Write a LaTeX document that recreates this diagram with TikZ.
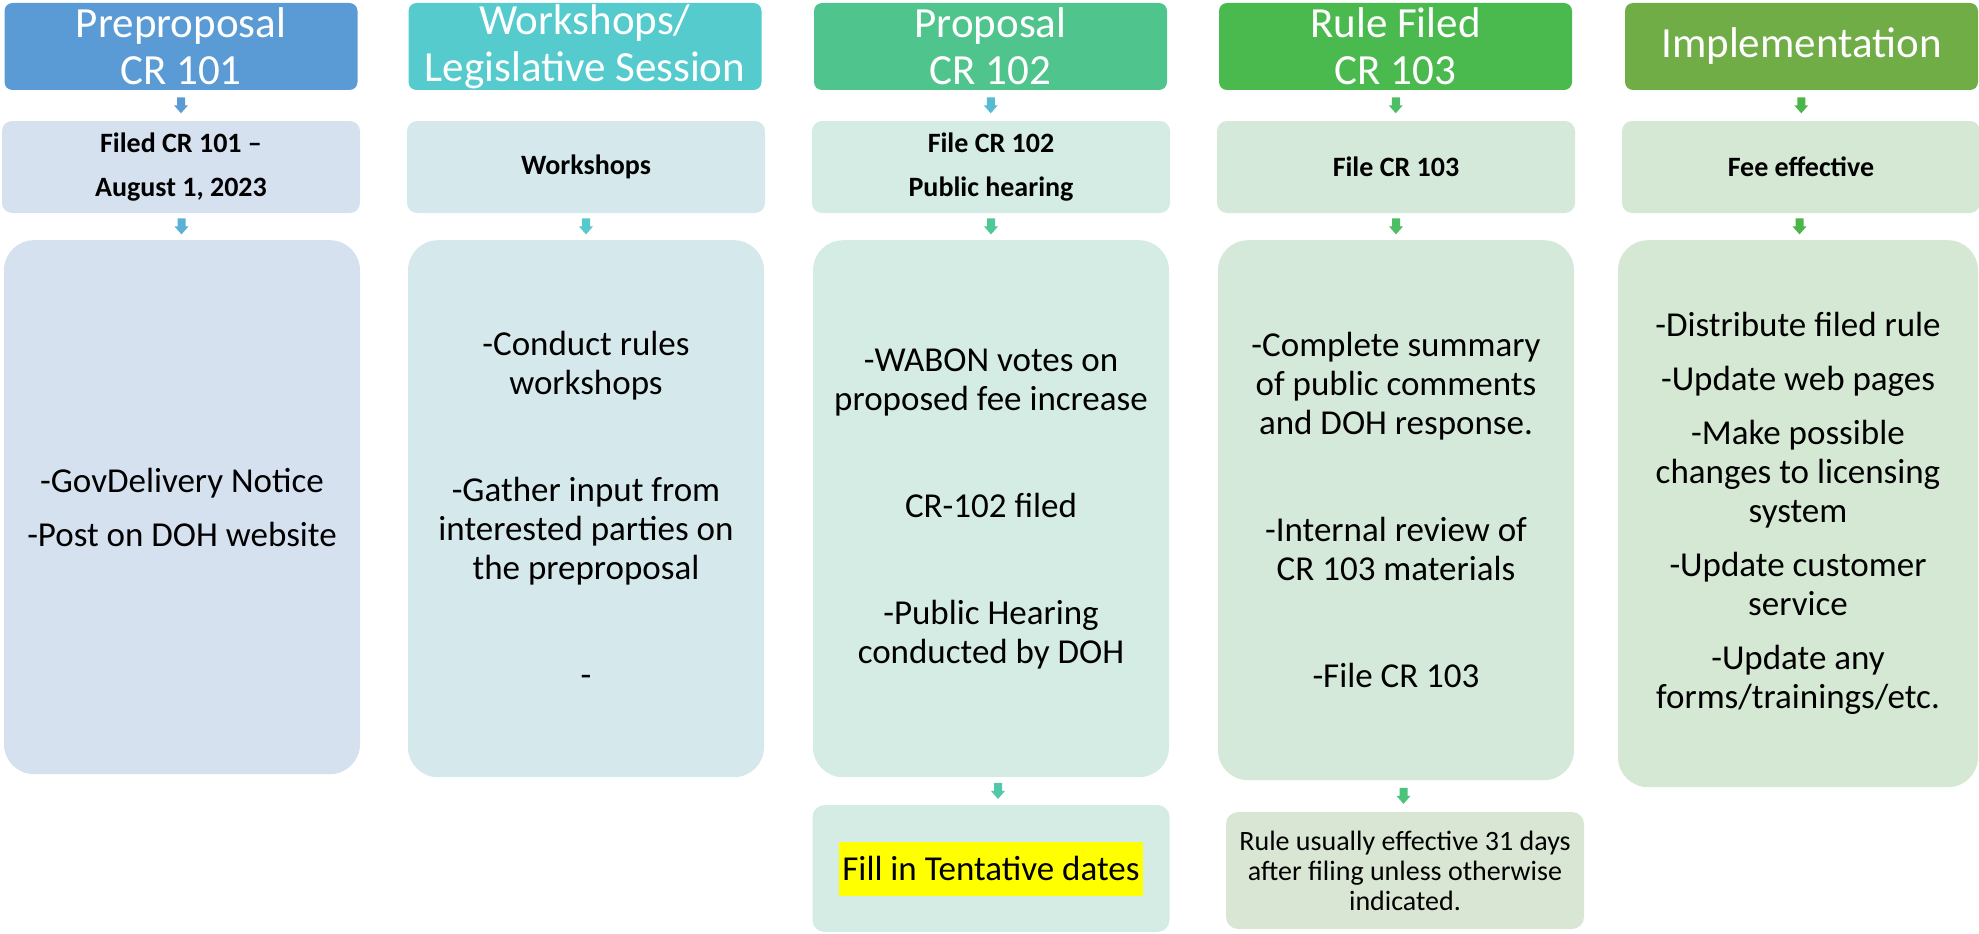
\documentclass[tikz,border=0pt]{standalone}
\usepackage{fontspec}
\setmainfont{Carlito}
\usetikzlibrary{calc}

% phase colours, blue to green
\definecolor{hdr1}{HTML}{5B9BD5}
\definecolor{hdr2}{HTML}{55CBCD}
\definecolor{hdr3}{HTML}{4FC58D}
\definecolor{hdr4}{HTML}{4ABA4F}
\definecolor{hdr5}{HTML}{70AD47}
\definecolor{box1}{HTML}{D6E1F0}
\definecolor{box2}{HTML}{D5E9EC}
\definecolor{box3}{HTML}{D5ECE5}
\definecolor{box4}{HTML}{D5E9DA}
\definecolor{box5}{HTML}{D5E8D4}
\definecolor{note4}{HTML}{DAE6D4}
\definecolor{arw1}{HTML}{5AB0D6}
\definecolor{arw2}{HTML}{56C9CC}
\definecolor{arw3}{HTML}{56BBD2}
\definecolor{arw3b}{HTML}{50C796}
\definecolor{arw3c}{HTML}{52C8A8}
\definecolor{arw4}{HTML}{4CBE63}
\definecolor{arw4c}{HTML}{4CC37C}
\definecolor{arw5}{HTML}{4CB54A}
\definecolor{hilite}{HTML}{FFFF00}

\tikzset{
  phase/.style={fill=#1, rounded corners=8pt, minimum width=353pt, minimum height=87pt,
    inner sep=0pt, align=center, text=white, font=\fontsize{43}{47}\selectfont},
  subbox/.style={fill=#1, rounded corners=10pt, minimum width=358pt, minimum height=92pt,
    inner sep=0pt, align=center, font=\bfseries\fontsize{28}{44}\selectfont},
  taskbox/.style={fill=#1, rounded corners=30pt, minimum width=356pt, anchor=north,
    inner sep=0pt, align=center, font=\fontsize{35}{39}\selectfont},
  notebox/.style={fill=#1, rounded corners=12pt, minimum width=357pt,
    inner sep=0pt, align=center},
  arrowslot/.style={minimum width=14pt, minimum height=16pt, inner sep=0pt},
}

\begin{document}
\begin{tikzpicture}[x=1pt,y=-1pt]
  \useasboundingbox (0,0) rectangle (1979,934);

  % phase headers
  \foreach \i/\x/\t in {1/181/{Preproposal\\CR 101},
                        2/585/{Workshops/\\Legislative Session},
                        3/990.5/{Proposal\\CR 102},
                        4/1395.5/{Rule Filed\\CR 103},
                        5/1801.5/{Implementation}}
    \node[phase=hdr\i] (hdr\i) at (\x,46.5) {\t};

  % milestone boxes
  \foreach \i/\x/\t in {1/181/{Filed CR 101 --\\August 1, 2023},
                        2/586/{Workshops},
                        3/991/{File CR 102\\Public hearing},
                        4/1396/{File CR 103},
                        5/1801/{Fee effective}}
    \node[subbox=box\i] (sub\i) at (\x,167) {\t};

  % task lists
  \node[taskbox=box1, minimum height=534pt] (task1) at (182,240)
    {-GovDelivery Notice\\[15pt]-Post on DOH website};
  \node[taskbox=box2, minimum height=537pt] (task2) at (586,240)
    {-Conduct rules\\workshops\\[68pt]-Gather input from\\interested parties on\\the preproposal\\[68pt]-};
  \node[taskbox=box3, minimum height=537pt] (task3) at (991,240)
    {-WABON votes on\\proposed fee increase\\[68pt]CR-102 filed\\[68pt]-Public Hearing\\conducted by DOH};
  \node[taskbox=box4, minimum height=540pt] (task4) at (1396,240)
    {-Complete summary\\of public comments\\and DOH response.\\[68pt]-Internal review of\\CR 103 materials\\[68pt]-File CR 103};
  \node[taskbox=box5, minimum height=547pt, minimum width=360pt] (task5) at (1798,240)
    {-Distribute filed rule\\[15pt]-Update web pages\\[15pt]-Make possible\\changes to licensing\\system\\[15pt]-Update customer\\service\\[15pt]-Update any\\forms/trainings/etc.};

  % notes under proposal and rule filed
  \node[notebox=box3, minimum height=127pt, font=\fontsize{35}{42}\selectfont] (note3) at (991,868.5)
    {\colorbox{hilite}{\rule[-12pt]{0pt}{48pt}Fill in Tentative dates}};
  \node[notebox=note4, minimum height=117pt, minimum width=358pt, font=\fontsize{28}{30}\selectfont] (note4) at (1405,870.5)
    {Rule usually effective 31 days\\after filing unless otherwise\\indicated.};

  % slots for the block arrows
  \node[arrowslot] (a1) at ($(hdr1.south)!.5!(sub1.north)$) {};
  \node[arrowslot] (b1) at ($(sub1.south)!.5!(task1.north)$) {};
  \node[arrowslot] (b2) at ($(sub2.south)!.5!(task2.north)$) {};
  \node[arrowslot] (a3) at ($(hdr3.south)!.5!(sub3.north)$) {};
  \node[arrowslot] (b3) at ($(sub3.south)!.5!(task3.north)$) {};
  \node[arrowslot, xshift=7pt] (c3) at ($(task3.south)!.5!(note3.north)$) {};
  \node[arrowslot] (a4) at ($(hdr4.south)!.5!(sub4.north)$) {};
  \node[arrowslot] (b4) at ($(sub4.south)!.5!(task4.north)$) {};
  \node[arrowslot, xshift=3pt] (c4) at ($(task4.south)!.5!(note4.north)$) {};
  \node[arrowslot] (a5) at ($(hdr5.south)!.5!(sub5.north)$) {};
  \node[arrowslot] (b5) at ($(sub5.south)!.5!(task5.north)$) {};

  % block arrows: 8pt shaft, 14pt head
  \foreach \n/\c in {a1/hdr1,b1/arw1,b2/arw2,a3/arw3,b3/arw3b,c3/arw3c,
                     a4/arw4,b4/arw4,c4/arw4c,a5/arw5,b5/arw5}
    \fill[\c] (\n.north) ++(-4pt,0) -- ++(0,-8pt) -- ++(-3pt,0) -- ++(7pt,-8pt)
      -- ++(7pt,8pt) -- ++(-3pt,0) -- ++(0,8pt) -- cycle;
\end{tikzpicture}
\end{document}
